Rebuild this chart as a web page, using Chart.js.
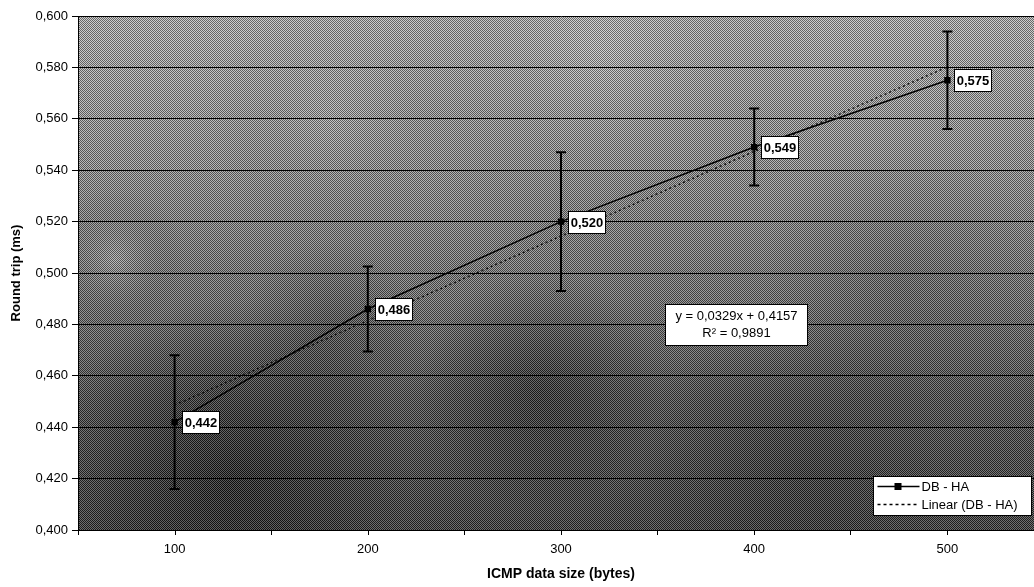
<!DOCTYPE html>
<html>
<head>
<meta charset="utf-8">
<title>Round trip vs ICMP data size</title>
<script src="https://cdn.jsdelivr.net/npm/chart.js@4/dist/chart.umd.min.js"></script>
<style>
  html, body { margin: 0; padding: 0; background: #fff; overflow: hidden; }
  #wrap { width: 1050px; height: 587px; position: relative; }
</style>
</head>
<body>
<div id="wrap"><canvas id="chart"></canvas></div>
<script>
// ICMP payload sizes (bytes) and measured mean round trip (ms)
const categories = ['100', '200', '300', '400', '500'];
const roundTrip = [0.442, 0.486, 0.520, 0.549, 0.575];
// half-height of each error bar (ms)
const errorMargin = [0.026, 0.0165, 0.027, 0.015, 0.019];
// linear trendline coefficients (x = category index starting at 1)
const trendSlope = 0.0329;
const trendIntercept = 0.4157;
const trendR2 = 0.9891;
const trendLine = categories.map((_, i) => +(trendSlope * (i + 1) + trendIntercept).toFixed(4));

const yMin = 0.4, yMax = 0.6, yStep = 0.02;
const FONT = '"Liberation Sans", Arial, sans-serif';

const fmt = (v, d) => v.toFixed(d).replace('.', ',');

// grainy grey plot background with darker patches
const backdrop = {
  id: 'backdrop',
  beforeDraw(chart) {
    const { ctx, chartArea: a } = chart;
    const w = a.right - a.left, h = a.bottom - a.top;
    ctx.save();
    ctx.beginPath();
    ctx.rect(a.left, a.top, w, h);
    ctx.clip();
    const g = ctx.createLinearGradient(0, a.top, 0, a.bottom);
    g.addColorStop(0, '#bdbdbd');
    g.addColorStop(0.3, '#9a9a9a');
    g.addColorStop(0.55, '#747474');
    g.addColorStop(0.75, '#4c4c4c');
    g.addColorStop(1, '#383838');
    ctx.fillStyle = g;
    ctx.fillRect(a.left, a.top, w, h);
    const blobs = [
      [230, 480, 180, 'rgba(0,0,0,0.6)'],
      [540, 390, 120, 'rgba(0,0,0,0.45)'],
      [330, 330, 90, 'rgba(0,0,0,0.25)'],
      [800, 470, 160, 'rgba(0,0,0,0.25)'],
      [115, 260, 70, 'rgba(255,255,255,0.3)'],
      [600, 50, 220, 'rgba(255,255,255,0.2)'],
      [330, 120, 120, 'rgba(255,255,255,0.12)'],
      [900, 280, 140, 'rgba(0,0,0,0.15)']
    ];
    blobs.forEach(([x, y, r, c]) => {
      const rg = ctx.createRadialGradient(x, y, 0, x, y, r);
      rg.addColorStop(0, c);
      rg.addColorStop(1, 'rgba(0,0,0,0)');
      ctx.fillStyle = rg;
      ctx.fillRect(a.left, a.top, w, h);
    });
    // halftone dot texture
    const tile = document.createElement('canvas');
    tile.width = 2; tile.height = 2;
    const t = tile.getContext('2d');
    t.fillStyle = 'rgba(0,0,0,0.45)';
    t.fillRect(0, 0, 1, 1); t.fillRect(1, 1, 1, 1);
    t.fillStyle = 'rgba(255,255,255,0.28)';
    t.fillRect(1, 0, 1, 1); t.fillRect(0, 1, 1, 1);
    ctx.fillStyle = ctx.createPattern(tile, 'repeat');
    ctx.fillRect(a.left, a.top, w, h);
    ctx.restore();
  }
};

// vertical error bars with caps
const errorBars = {
  id: 'errorBars',
  beforeDatasetsDraw(chart) {
    const { ctx } = chart;
    const xs = chart.scales.x, ys = chart.scales.y;
    ctx.save();
    ctx.strokeStyle = '#000';
    ctx.lineWidth = 2;
    roundTrip.forEach((v, i) => {
      const x = xs.getPixelForValue(i);
      const top = ys.getPixelForValue(v + errorMargin[i]);
      const bot = ys.getPixelForValue(v - errorMargin[i]);
      ctx.beginPath();
      ctx.moveTo(x, top); ctx.lineTo(x, bot);
      ctx.moveTo(x - 5, top); ctx.lineTo(x + 5, top);
      ctx.moveTo(x - 5, bot); ctx.lineTo(x + 5, bot);
      ctx.stroke();
    });
    ctx.restore();
  }
};

// value boxes, trendline equation, legend and center ticks
const annotations = {
  id: 'annotations',
  afterDraw(chart) {
    const { ctx, chartArea: a } = chart;
    const xs = chart.scales.x, ys = chart.scales.y;
    ctx.save();
    // category center tick marks
    ctx.strokeStyle = '#000';
    ctx.lineWidth = 1;
    categories.forEach((_, i) => {
      const x = Math.round(xs.getPixelForValue(i)) + 0.5;
      ctx.beginPath();
      ctx.moveTo(x, a.bottom); ctx.lineTo(x, a.bottom + 5);
      ctx.stroke();
    });
    // data value boxes
    ctx.font = 'bold 13px ' + FONT;
    ctx.textAlign = 'center';
    ctx.textBaseline = 'middle';
    roundTrip.forEach((v, i) => {
      const x = xs.getPixelForValue(i);
      const y = ys.getPixelForValue(v);
      const bx = Math.round(x + 7) + 0.5, by = Math.round(y - 11) + 0.5;
      ctx.fillStyle = '#fff';
      ctx.fillRect(bx, by, 37, 22);
      ctx.strokeRect(bx, by, 37, 22);
      ctx.fillStyle = '#000';
      ctx.fillText(fmt(v, 3), bx + 18.5, by + 11.5);
    });
    // trendline equation box
    ctx.font = '13px ' + FONT;
    const ex = 665.5, ey = 304.5, ew = 142, eh = 41;
    ctx.fillStyle = '#fff';
    ctx.fillRect(ex, ey, ew, eh);
    ctx.strokeRect(ex, ey, ew, eh);
    ctx.fillStyle = '#000';
    ctx.fillText('y = ' + fmt(trendSlope, 4) + 'x + ' + fmt(trendIntercept, 4), ex + ew / 2, ey + 12);
    ctx.fillText('R² = ' + fmt(trendR2, 4), ex + ew / 2, ey + 29);
    // legend
    const lx = 873.5, ly = 476.5, lw = 158, lh = 39;
    ctx.fillStyle = '#fff';
    ctx.fillRect(lx, ly, lw, lh);
    ctx.strokeRect(lx, ly, lw, lh);
    ctx.lineWidth = 1.5;
    ctx.beginPath();
    ctx.moveTo(lx + 4, ly + 10); ctx.lineTo(lx + 46, ly + 10);
    ctx.stroke();
    ctx.fillStyle = '#000';
    ctx.fillRect(lx + 21, ly + 6.5, 7, 7);
    ctx.setLineDash([3, 3]);
    ctx.beginPath();
    ctx.moveTo(lx + 4, ly + 28); ctx.lineTo(lx + 46, ly + 28);
    ctx.stroke();
    ctx.setLineDash([]);
    ctx.textAlign = 'left';
    ctx.fillText('DB - HA', lx + 48, ly + 10.5);
    ctx.fillText('Linear (DB - HA)', lx + 48, ly + 28.5);
    ctx.restore();
  }
};

new Chart(document.getElementById('chart'), {
  type: 'line',
  data: {
    labels: categories,
    datasets: [
      {
        label: 'DB - HA',
        data: roundTrip,
        borderColor: '#000',
        backgroundColor: '#000',
        borderWidth: 1.5,
        pointStyle: 'rect',
        pointRadius: 4.5,
        pointBackgroundColor: '#000',
        pointBorderWidth: 0,
        tension: 0,
        order: 1
      },
      {
        label: 'Linear (DB - HA)',
        data: trendLine,
        borderColor: '#111',
        borderWidth: 1.5,
        borderDash: [2, 3],
        pointRadius: 0,
        tension: 0,
        order: 2
      }
    ]
  },
  options: {
    responsive: true,
    maintainAspectRatio: false,
    animation: false,
    layout: { padding: { top: 16, right: 6, left: 0, bottom: 0 } },
    plugins: {
      legend: { display: false },
      tooltip: { enabled: false }
    },
    scales: {
      x: {
        type: 'category',
        offset: true,
        grid: {
          offset: true,
          drawOnChartArea: false,
          drawTicks: true,
          tickLength: 5,
          color: '#000'
        },
        border: { display: true, color: '#000', width: 1 },
        ticks: {
          color: '#000',
          font: { family: FONT, size: 13 },
          padding: 7,
          maxRotation: 0
        },
        title: {
          display: true,
          text: 'ICMP data size (bytes)',
          color: '#000',
          font: { family: FONT, size: 14, weight: 'bold' },
          padding: { top: 2, bottom: 4 }
        },
        afterFit(scale) { scale.height = 57; }
      },
      y: {
        min: yMin,
        max: yMax,
        grid: {
          color: '#000',
          lineWidth: 1,
          tickLength: 6,
          drawTicks: true
        },
        border: { display: true, color: '#000', width: 1 },
        ticks: {
          stepSize: yStep,
          color: '#000',
          font: { family: FONT, size: 13 },
          padding: 4,
          callback: (v) => fmt(v, 3)
        },
        title: {
          display: true,
          text: 'Round trip (ms)',
          color: '#000',
          font: { family: FONT, size: 13, weight: 'bold' },
          padding: { top: 9, bottom: 2 }
        },
        afterFit(scale) { scale.width = 78; }
      }
    }
  },
  plugins: [backdrop, errorBars, annotations]
});
</script>
</body>
</html>
